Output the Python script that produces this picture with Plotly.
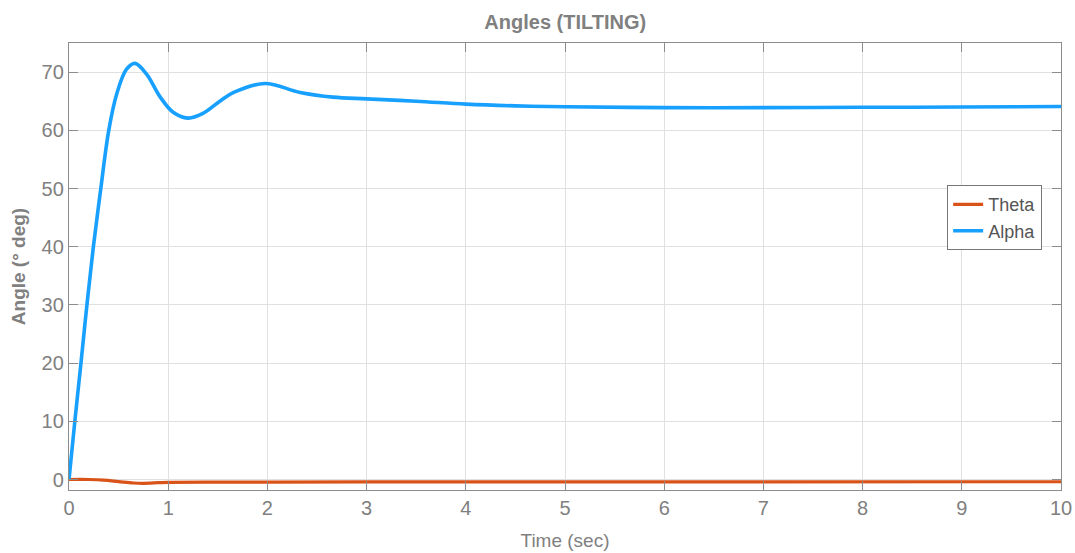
import plotly.graph_objects as go

# ---- data ----
t_alpha = [0, 0.06, 0.12, 0.18, 0.245, 0.32, 0.40, 0.48, 0.58, 0.665, 0.78, 0.92,
           1.05, 1.20, 1.35, 1.52, 1.66, 1.975, 2.33, 2.66, 3.0, 3.5, 4.0, 4.5,
           5.0, 6.0, 7.0, 8.0, 9.0, 10.0]
alpha = [0, 10.2, 19.9, 29.9, 39.9, 49.9, 59.9, 66.2, 70.5, 71.5, 69.7, 65.7,
         63.1, 62.1, 62.9, 65.0, 66.5, 68.05, 66.5, 65.7, 65.4, 65.0, 64.5, 64.2,
         64.05, 63.9, 63.9, 63.95, 64.0, 64.1]

t_theta = [0, 0.2, 0.35, 0.5, 0.65, 0.75, 0.9, 1.0, 1.5, 2.0, 3.0, 5.0, 7.0, 10.0]
theta = [0, 0, -0.1, -0.35, -0.6, -0.65, -0.55, -0.48, -0.45, -0.45, -0.42, -0.4, -0.4, -0.38]

x_ticks = [0, 1, 2, 3, 4, 5, 6, 7, 8, 9, 10]
y_ticks = [0, 10, 20, 30, 40, 50, 60, 70]

FONT = "Liberation Sans, Arial, Helvetica, sans-serif"
GRAY = "#808080"
AXIS = "#8c8c8c"
GRID = "#e0e0e0"

fig = go.Figure()
fig.add_trace(go.Scatter(x=t_theta, y=theta, mode="lines", name="Theta",
                         line=dict(color="#D95319", width=3.2, shape="spline")))
fig.add_trace(go.Scatter(x=t_alpha, y=alpha, mode="lines", name="Alpha",
                         line=dict(color="#18A0FF", width=3.6, shape="spline")))

axis_common = dict(
    showline=True, linecolor=AXIS, linewidth=1.3, mirror="ticks",
    ticks="inside", ticklen=9, tickcolor=AXIS, tickwidth=1.3,
    showgrid=True, gridcolor=GRID, gridwidth=1, zeroline=False,
    tickfont=dict(family=FONT, size=20, color=GRAY),
    automargin=False,
)

fig.update_xaxes(range=[0, 10], tickvals=x_ticks, ticktext=[str(v) for v in x_ticks],
                 title=dict(text="Time (sec)", font=dict(family=FONT, size=19, color=GRAY), standoff=15),
                 **axis_common)
fig.update_yaxes(range=[-1.8, 75], tickvals=y_ticks, ticktext=[str(v) for v in y_ticks],
                 title=dict(text="<b>Angle (° deg)</b>", font=dict(family=FONT, size=19, color=GRAY), standoff=10),
                 **axis_common)

fig.update_layout(
    width=1075, height=553,
    margin=dict(l=69, r=14, t=43, b=63),
    paper_bgcolor="white", plot_bgcolor="white",
    title=dict(text="<b>Angles (TILTING)</b>", x=(69 + 1061.5) / 2 / 1075, xanchor="center",
               y=1 - 22 / 553, yanchor="middle", font=dict(family=FONT, size=20, color=GRAY)),
    legend=dict(x=0.981, y=0.682, xanchor="right", yanchor="top",
                bgcolor="white", bordercolor="#777777", borderwidth=1,
                font=dict(family=FONT, size=18, color="#555555"),
                tracegroupgap=0, itemwidth=30),
    showlegend=True,
)

fig.write_html("out.html")
